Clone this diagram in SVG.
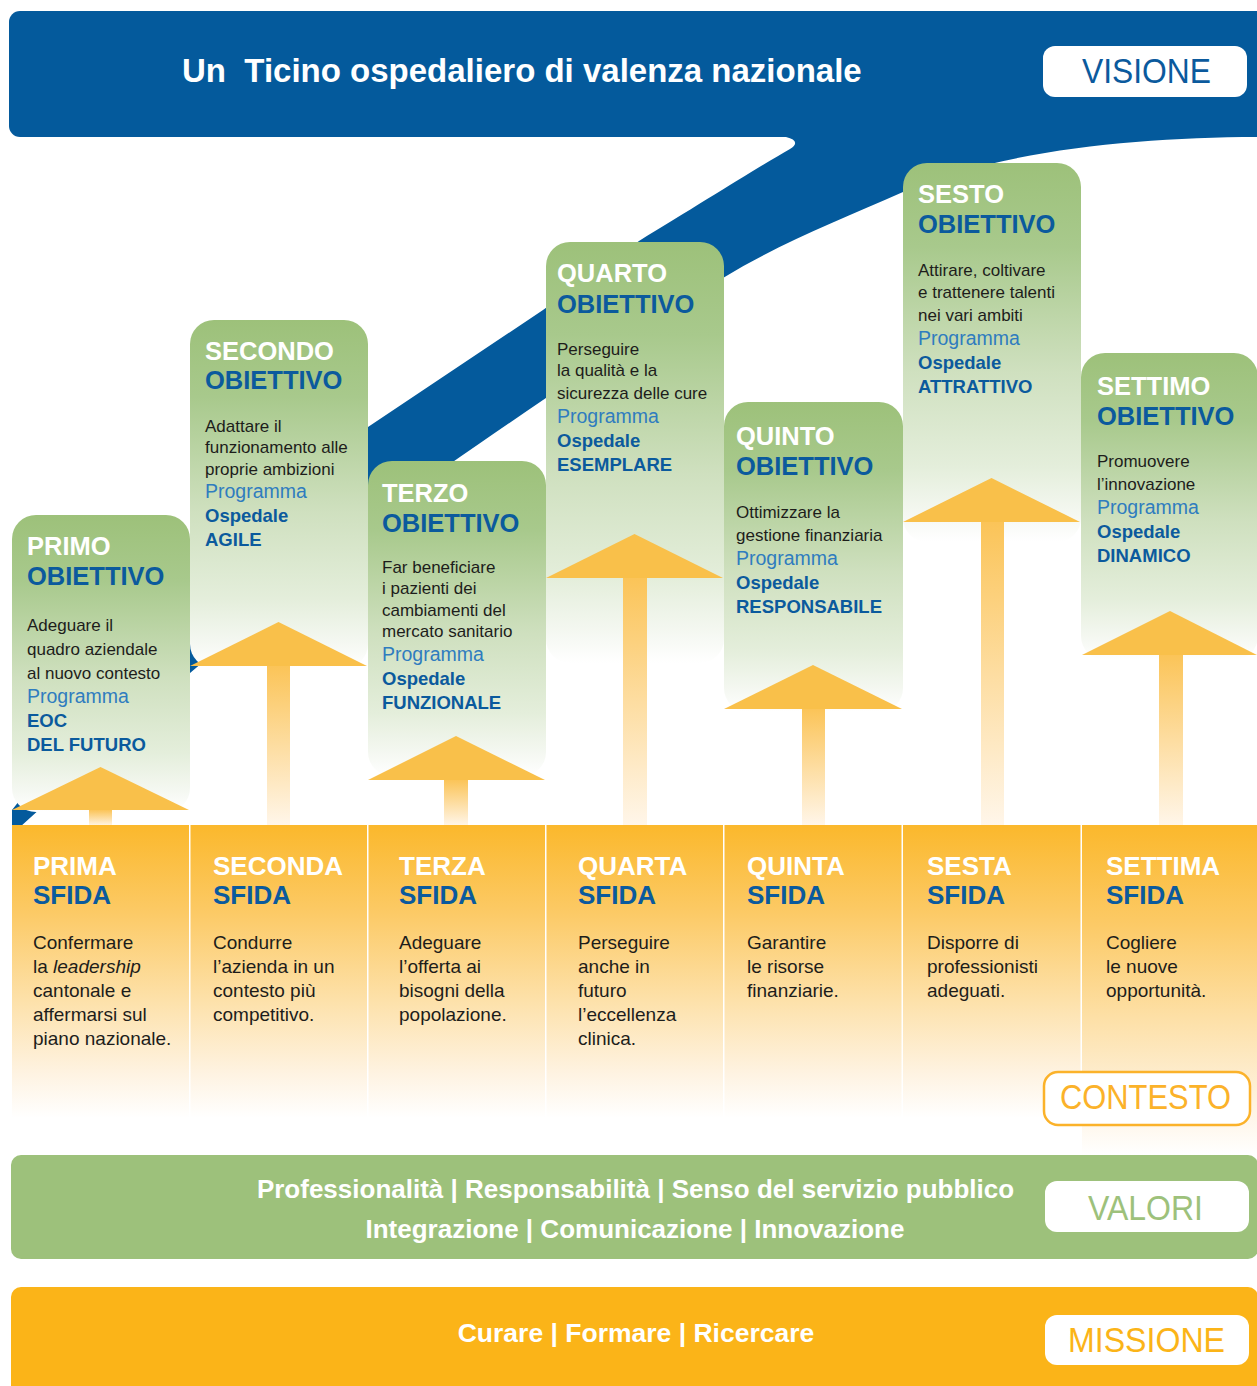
<svg xmlns="http://www.w3.org/2000/svg" width="1257" height="1386" viewBox="0 0 1257 1386">
<style>
text{font-family:"Liberation Sans",Arial,sans-serif}
.hw{font-weight:bold;font-size:25.5px;fill:#fff}
.hb{font-weight:bold;font-size:25.5px;fill:#0b5a9d}
.bd{font-size:17px;fill:#1d1d1b}
.pg{font-size:19.5px;fill:#2f7cbf}
.nm{font-weight:bold;font-size:18.5px;fill:#0b5a9d}
.sh{font-weight:bold;font-size:26px}
.sb{font-size:19px;fill:#1d1d1b}
.card{fill:url(#gCard)}
.col{fill:url(#gSfida)}
.head{fill:#f9c04a}
.stem{fill:url(#gStem)}
.lbl{font-size:35px;text-anchor:middle}
.blue{fill:#045a9c}
</style>
<defs>
<linearGradient id="gCard" x1="0" y1="0" x2="0" y2="1">
<stop offset="0" stop-color="#9dc17a"/>
<stop offset="0.22" stop-color="#a8c98c"/>
<stop offset="0.55" stop-color="#cfe0bf"/>
<stop offset="0.8" stop-color="#e4eedb"/>
<stop offset="0.93" stop-color="#f5f8f2"/>
<stop offset="1" stop-color="#ffffff"/>
</linearGradient>
<linearGradient id="gSfida" x1="0" y1="0" x2="0" y2="1">
<stop offset="0" stop-color="#fbb82c"/>
<stop offset="0.3" stop-color="#fcca66"/>
<stop offset="0.6" stop-color="#fde1aa"/>
<stop offset="0.85" stop-color="#fef3e2"/>
<stop offset="1" stop-color="#ffffff"/>
</linearGradient>
<linearGradient id="gStem" x1="0" y1="0" x2="0" y2="1">
<stop offset="0" stop-color="#fbc458"/>
<stop offset="1" stop-color="#fff6ea"/>
</linearGradient>
</defs>
<rect width="1257" height="1386" fill="#ffffff"/>

<g id="visione">
<path class="blue" d="M1262,137 C1140,137 1000,150 903,192 C840,220 780,243 723,278 L543,400 C480,443 420,484 368,523 L190,673 L20,827 L12,827 L12,810 L190,585 C260,520 300,478 368,427 L543,310 L639,241 C700,204 760,166 790,149 Q802,141 786,137 Z"/>
<rect class="blue" x="9" y="11" width="1262" height="126" rx="11"/>
<text x="182" y="82" xml:space="preserve" style="font-weight:bold;font-size:33px;fill:#fff">Un  Ticino ospedaliero di valenza nazionale</text>
<rect x="1043" y="46" width="204" height="51" rx="12" fill="#fff"/>
<text class="lbl" x="1146.5" y="83" fill="#0b5a9d" textLength="129" lengthAdjust="spacingAndGlyphs">VISIONE</text>
</g>

<g id="obiettivo-1">
<rect class="card" x="12" y="515" width="178" height="297" rx="24"/>
<text class="hw" x="27" y="555">PRIMO</text>
<text class="hb" x="27" y="585">OBIETTIVO</text>
<text class="bd" x="27" y="631">Adeguare il</text>
<text class="bd" x="27" y="655">quadro aziendale</text>
<text class="bd" x="27" y="679">al nuovo contesto</text>
<text class="pg" x="27" y="703">Programma</text>
<text class="nm" x="27" y="727">EOC</text>
<text class="nm" x="27" y="751">DEL FUTURO</text>
</g>
<g id="obiettivo-2">
<rect class="card" x="190" y="320" width="178" height="348" rx="24"/>
<text class="hw" x="205" y="360">SECONDO</text>
<text class="hb" x="205" y="389">OBIETTIVO</text>
<text class="bd" x="205" y="432">Adattare il</text>
<text class="bd" x="205" y="453">funzionamento alle</text>
<text class="bd" x="205" y="475">proprie ambizioni</text>
<text class="pg" x="205" y="498">Programma</text>
<text class="nm" x="205" y="522">Ospedale</text>
<text class="nm" x="205" y="546">AGILE</text>
</g>
<g id="obiettivo-3">
<rect class="card" x="368" y="461" width="178" height="315" rx="24"/>
<text class="hw" x="382" y="502">TERZO</text>
<text class="hb" x="382" y="532">OBIETTIVO</text>
<text class="bd" x="382" y="573">Far beneficiare</text>
<text class="bd" x="382" y="594">i pazienti dei</text>
<text class="bd" x="382" y="616">cambiamenti del</text>
<text class="bd" x="382" y="637">mercato sanitario</text>
<text class="pg" x="382" y="661">Programma</text>
<text class="nm" x="382" y="685">Ospedale</text>
<text class="nm" x="382" y="709">FUNZIONALE</text>
</g>
<g id="obiettivo-4">
<rect class="card" x="546" y="242" width="178" height="421" rx="24"/>
<text class="hw" x="557" y="282">QUARTO</text>
<text class="hb" x="557" y="313">OBIETTIVO</text>
<text class="bd" x="557" y="355">Perseguire</text>
<text class="bd" x="557" y="376">la qualità e la</text>
<text class="bd" x="557" y="399">sicurezza delle cure</text>
<text class="pg" x="557" y="423">Programma</text>
<text class="nm" x="557" y="447">Ospedale</text>
<text class="nm" x="557" y="471">ESEMPLARE</text>
</g>
<g id="obiettivo-5">
<rect class="card" x="724" y="402" width="179" height="310" rx="24"/>
<text class="hw" x="736" y="445">QUINTO</text>
<text class="hb" x="736" y="475">OBIETTIVO</text>
<text class="bd" x="736" y="518">Ottimizzare la</text>
<text class="bd" x="736" y="541">gestione finanziaria</text>
<text class="pg" x="736" y="565">Programma</text>
<text class="nm" x="736" y="589">Ospedale</text>
<text class="nm" x="736" y="613">RESPONSABILE</text>
</g>
<g id="obiettivo-6">
<rect class="card" x="903" y="163" width="178" height="379" rx="24"/>
<text class="hw" x="918" y="203">SESTO</text>
<text class="hb" x="918" y="233">OBIETTIVO</text>
<text class="bd" x="918" y="276">Attirare, coltivare</text>
<text class="bd" x="918" y="298">e trattenere talenti</text>
<text class="bd" x="918" y="321">nei vari ambiti</text>
<text class="pg" x="918" y="345">Programma</text>
<text class="nm" x="918" y="369">Ospedale</text>
<text class="nm" x="918" y="393">ATTRATTIVO</text>
</g>
<g id="obiettivo-7">
<rect class="card" x="1081" y="353" width="177" height="307" rx="24"/>
<text class="hw" x="1097" y="395">SETTIMO</text>
<text class="hb" x="1097" y="425">OBIETTIVO</text>
<text class="bd" x="1097" y="467">Promuovere</text>
<text class="bd" x="1097" y="490">l’innovazione</text>
<text class="pg" x="1097" y="514">Programma</text>
<text class="nm" x="1097" y="538">Ospedale</text>
<text class="nm" x="1097" y="562">DINAMICO</text>
</g>

<g id="connectors">
<rect class="stem" x="89" y="810" width="23" height="16"/>
<polygon class="head" points="12,810 100.5,767 189,810"/>
<rect class="stem" x="267" y="666" width="23" height="160"/>
<polygon class="head" points="190,666 278.5,622 367,666"/>
<rect class="stem" x="444" y="780" width="24" height="46"/>
<polygon class="head" points="368,780 456,736 545,780"/>
<rect class="stem" x="623" y="578" width="24" height="248"/>
<polygon class="head" points="546,578 634.5,534 723,578"/>
<rect class="stem" x="802" y="709" width="23" height="117"/>
<polygon class="head" points="724,709 813,665 902,709"/>
<rect class="stem" x="981" y="522" width="23" height="304"/>
<polygon class="head" points="903,522 991.5,478 1080,522"/>
<rect class="stem" x="1159" y="655" width="24" height="171"/>
<polygon class="head" points="1082,655 1170,611 1257,655"/>
</g>

<g id="sfida-1">
<rect class="col" x="12" y="825" width="177" height="293"/>
<text class="sh" x="33" y="875" fill="#fff">PRIMA</text>
<text class="sh" x="33" y="904" fill="#0b5a9d">SFIDA</text>
<text class="sb" x="33" y="949">Confermare</text>
<text class="sb" x="33" y="973">la <tspan font-style="italic">leadership</tspan></text>
<text class="sb" x="33" y="997">cantonale e</text>
<text class="sb" x="33" y="1021">affermarsi sul</text>
<text class="sb" x="33" y="1045">piano nazionale.</text>
</g>
<g id="sfida-2">
<rect class="col" x="190.5" y="825" width="176.5" height="293"/>
<text class="sh" x="213" y="875" fill="#fff">SECONDA</text>
<text class="sh" x="213" y="904" fill="#0b5a9d">SFIDA</text>
<text class="sb" x="213" y="949">Condurre</text>
<text class="sb" x="213" y="973">l’azienda in un</text>
<text class="sb" x="213" y="997">contesto più</text>
<text class="sb" x="213" y="1021">competitivo.</text>
</g>
<g id="sfida-3">
<rect class="col" x="368.5" y="825" width="176.5" height="293"/>
<text class="sh" x="399" y="875" fill="#fff">TERZA</text>
<text class="sh" x="399" y="904" fill="#0b5a9d">SFIDA</text>
<text class="sb" x="399" y="949">Adeguare</text>
<text class="sb" x="399" y="973">l’offerta ai</text>
<text class="sb" x="399" y="997">bisogni della</text>
<text class="sb" x="399" y="1021">popolazione.</text>
</g>
<g id="sfida-4">
<rect class="col" x="546.5" y="825" width="176.5" height="293"/>
<text class="sh" x="578" y="875" fill="#fff">QUARTA</text>
<text class="sh" x="578" y="904" fill="#0b5a9d">SFIDA</text>
<text class="sb" x="578" y="949">Perseguire</text>
<text class="sb" x="578" y="973">anche in</text>
<text class="sb" x="578" y="997">futuro</text>
<text class="sb" x="578" y="1021">l’eccellenza</text>
<text class="sb" x="578" y="1045">clinica.</text>
</g>
<g id="sfida-5">
<rect class="col" x="724.5" y="825" width="177" height="293"/>
<text class="sh" x="747" y="875" fill="#fff">QUINTA</text>
<text class="sh" x="747" y="904" fill="#0b5a9d">SFIDA</text>
<text class="sb" x="747" y="949">Garantire</text>
<text class="sb" x="747" y="973">le risorse</text>
<text class="sb" x="747" y="997">finanziarie.</text>
</g>
<g id="sfida-6">
<rect class="col" x="903" y="825" width="177.5" height="293"/>
<text class="sh" x="927" y="875" fill="#fff">SESTA</text>
<text class="sh" x="927" y="904" fill="#0b5a9d">SFIDA</text>
<text class="sb" x="927" y="949">Disporre di</text>
<text class="sb" x="927" y="973">professionisti</text>
<text class="sb" x="927" y="997">adeguati.</text>
</g>
<g id="sfida-7">
<rect class="col" x="1082" y="825" width="180" height="330"/>
<text class="sh" x="1106" y="875" fill="#fff">SETTIMA</text>
<text class="sh" x="1106" y="904" fill="#0b5a9d">SFIDA</text>
<text class="sb" x="1106" y="949">Cogliere</text>
<text class="sb" x="1106" y="973">le nuove</text>
<text class="sb" x="1106" y="997">opportunità.</text>
</g>
<g id="contesto">
<rect x="1044" y="1072" width="206" height="53" rx="14" fill="#fff" stroke="#fbb22a" stroke-width="2.5"/>
<text class="lbl" x="1145.5" y="1109" fill="#fbb22a" textLength="171" lengthAdjust="spacingAndGlyphs">CONTESTO</text>
</g>

<g id="valori">
<rect x="11" y="1155" width="1247" height="104" rx="10" fill="#9dc17b"/>
<text x="635.5" y="1198" text-anchor="middle" style="font-weight:bold;font-size:26px;fill:#fff">Professionalità | Responsabilità | Senso del servizio pubblico</text>
<text x="635" y="1238" text-anchor="middle" style="font-weight:bold;font-size:26px;fill:#fff">Integrazione | Comunicazione | Innovazione</text>
<rect x="1045" y="1181" width="204" height="51" rx="12" fill="#fff"/>
<text class="lbl" x="1145.5" y="1220" fill="#9dc17b" textLength="115" lengthAdjust="spacingAndGlyphs">VALORI</text>
</g>

<g id="missione">
<rect x="11" y="1287" width="1247" height="112" rx="10" fill="#fbb418"/>
<text x="636" y="1342" text-anchor="middle" style="font-weight:bold;font-size:26.5px;fill:#fff">Curare | Formare | Ricercare</text>
<rect x="1045" y="1315" width="204" height="50" rx="12" fill="#fff"/>
<text class="lbl" x="1146.5" y="1352" fill="#fbb418" textLength="157" lengthAdjust="spacingAndGlyphs">MISSIONE</text>
</g>
</svg>
